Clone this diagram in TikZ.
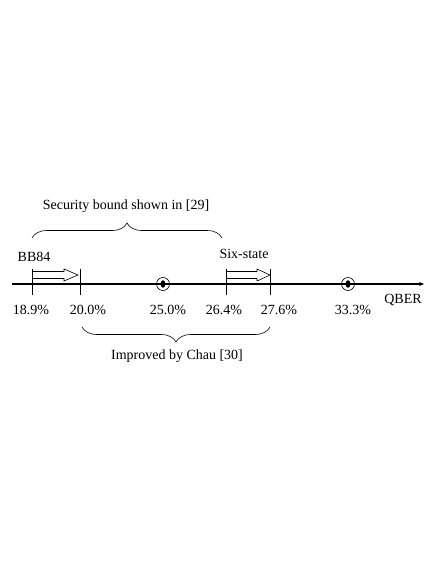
\documentclass[tikz,border=0pt]{standalone}
\usepackage{fontspec}
\setmainfont{Liberation Serif}
\usetikzlibrary{decorations.pathreplacing,arrows.meta}
\begin{document}
\begin{tikzpicture}[x=1pt,y=-1pt,
  lbl/.style={font=\fontsize{14}{16}\selectfont, inner sep=0pt},
  tick/.style={line width=0.6pt},
  brc/.style={decorate, decoration={brace, amplitude=15pt}, line width=0.6pt},
  harrow/.style={line width=0.6pt},
  marker/.style={circle, draw, line width=0.6pt, minimum size=13pt, inner sep=0pt}]
\useasboundingbox (0,0) rectangle (436,564);
% axis
\coordinate (axs) at (12,284);
\coordinate (axe) at (424,284);
\draw[line width=1.3pt, -{Stealth[length=5pt,width=4pt]}] (axs) -- (axe);
% ticks
\foreach \n/\x in {a/32, b/80, c/226, d/270}{
  \coordinate (\n t) at (\x,269);
  \coordinate (\n b) at (\x,295);
  \draw[tick] (\n t) -- (\n b);
}
% markers
\foreach \n/\x in {m1/163, m2/348}{
  \node[marker] (\n) at (\x,284) {};
  \fill (\n) ellipse (2.4pt and 3.8pt);
}
% hollow arrows
\foreach \xs/\xh/\xe in {32/64/78, 226/257/270}{
  \draw[harrow] (\xs,271.5) -- (\xh,271.5) -- (\xh,269) -- (\xe,275) -- (\xh,281) -- (\xh,278.5) -- (\xs,278.5);
}
% labels
\node[lbl] (l1) at (31,310) {18.9\%};
\node[lbl] (l2) at (88,310) {20.0\%};
\node[lbl] (l3) at (168,310) {25.0\%};
\node[lbl] (l4) at (224,310) {26.4\%};
\node[lbl] (l5) at (279,310) {27.6\%};
\node[lbl] (l6) at (353,310) {33.3\%};
\node[lbl] (qb) at (403,300) {QBER};
\node[lbl] (bb) at (34,257) {BB84};
\node[lbl] (six) at (244,254) {Six-state};
% braces
\coordinate (tb1) at (32,238);
\coordinate (tb2) at (222,238);
\draw[brc] (tb1) -- (tb2);
\node[lbl] (sec) at (126,206) {Security bound shown in [29]};
\coordinate (bb1) at (270,327);
\coordinate (bb2) at (82,327);
\draw[brc] (bb1) -- (bb2);
\node[lbl] (imp) at (177,356) {Improved by Chau [30]};
\end{tikzpicture}
\end{document}
